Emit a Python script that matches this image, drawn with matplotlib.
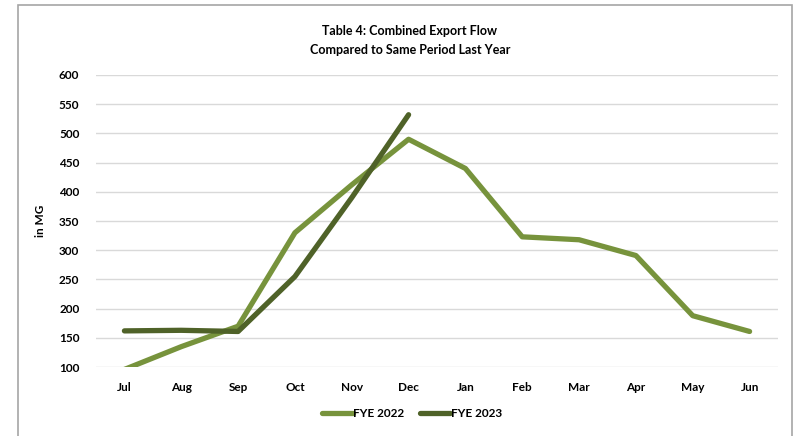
import matplotlib
matplotlib.use('Agg')
import matplotlib.pyplot as plt
from matplotlib.patches import Rectangle

months = ['Jul', 'Aug', 'Sep', 'Oct', 'Nov', 'Dec', 'Jan', 'Feb', 'Mar', 'Apr', 'May', 'Jun']
fye_2022 = [96, 135, 170, 330, 412, 490, 440, 323, 318, 291, 188, 161]
fye_2023 = [162, 163, 161, 255, 390, 532]
yticks = [100, 150, 200, 250, 300, 350, 400, 450, 500, 550, 600]

plt.rcParams['font.family'] = ['Lato', 'DejaVu Sans']
plt.rcParams['font.weight'] = 'bold'

fig = plt.figure(figsize=(8, 4.36), dpi=100)
ax = fig.add_axes([0.12, 0.158, 0.8525, 0.67])

x = list(range(len(months)))
ax.plot(x, fye_2022, color='#77933C', linewidth=3.8, label='FYE 2022', solid_capstyle='round', zorder=3)
ax.plot(x[:len(fye_2023)], fye_2023, color='#4F6228', linewidth=3.8, label='FYE 2023', solid_capstyle='round', zorder=4)

ax.set_xlim(-0.5, 11.5)
ax.set_ylim(100, 600)
ax.set_yticks(yticks)
ax.set_xticks(x)
ax.set_xticklabels(months)
ax.tick_params(axis='both', length=0, labelsize=8.5, colors='black')
ax.tick_params(axis='y', pad=12)
ax.tick_params(axis='x', pad=11)
ax.grid(axis='y', color='#D9D9D9', linewidth=1)
ax.set_axisbelow(True)
for s in ax.spines.values():
    s.set_visible(False)

ax.set_ylabel('in MG', fontsize=8.5, fontweight='bold', labelpad=9)

fig.text(0.5125, 0.93, 'Table 4: Combined Export Flow', ha='center', va='center', fontsize=9, fontweight='bold')
fig.text(0.5125, 0.886, 'Compared to Same Period Last Year', ha='center', va='center', fontsize=9, fontweight='bold')

fig.legend(loc='center', bbox_to_anchor=(0.515, 0.052), ncol=2, frameon=False, fontsize=8.5,
           handlelength=2.6, handletextpad=0.05, columnspacing=1.3)

fig.patches.append(Rectangle((18 / 800, -0.1), 774 / 800, 1.1 - 5 / 436, transform=fig.transFigure,
                             fill=False, edgecolor='#A6A6A6', linewidth=1.2))

fig.savefig('out.png', dpi=100)
